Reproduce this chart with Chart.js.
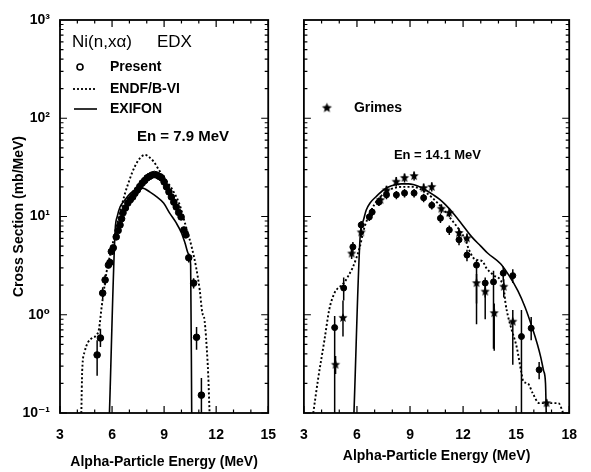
<!DOCTYPE html>
<html>
<head>
<meta charset="utf-8">
<title>Ni(n,xα) EDX</title>
<script src="https://cdn.jsdelivr.net/npm/chart.js@4.4.1/dist/chart.umd.min.js"></script>
<style>
  html, body { margin: 0; padding: 0; background: #fff; }
  #figure { position: relative; width: 591px; height: 472px; overflow: hidden; }
  #figure canvas { position: absolute; top: 0; }
  #leftChart { left: 0; }
  #rightChart { left: 286px; }
</style>
</head>
<body>
<div id="figure">
  <canvas id="leftChart" width="290" height="472"></canvas>
  <canvas id="rightChart" width="305" height="472"></canvas>
</div>
<script>
/* ========================================
   DADOS
   ======================================== */

// Eixos
const yTickValues = [0.1, 1, 10, 100, 1000];
const yTickLabels = ['10⁻¹', '10⁰', '10¹', '10²', '10³'];
const xTicksLeft = [3, 6, 9, 12, 15];
const xTicksRight = [3, 6, 9, 12, 15, 18];

// En = 7.9 MeV : [E (MeV), sigma, erro inferior, erro superior]
const leftPresent = [
  [5.14, 0.39, 0.24, 0.55], [5.33, 0.58, 0.47, 0.72], [5.46, 1.66, 1.45, 1.9],
  [5.60, 2.26, 2.0, 2.55], [5.79, 3.2], [5.88, 3.4], [5.96, 4.4], [6.07, 4.8],
  [6.24, 6.2], [6.35, 7.2], [6.46, 8.2], [6.55, 9.5], [6.63, 10.9], [6.77, 12.2],
  [6.91, 13.7], [7.05, 14.8], [7.19, 15.8], [7.32, 17.2], [7.46, 18.6], [7.60, 20.2],
  [7.74, 21.9], [7.88, 23.2], [8.02, 24.7], [8.16, 25.6], [8.30, 26.4], [8.44, 26.8],
  [8.58, 26.4], [8.72, 25.6], [8.86, 24.7], [9.00, 22.5], [9.14, 20.0], [9.28, 17.8],
  [9.42, 15.8], [9.56, 14.0], [9.70, 12.5], [9.84, 11.0], [9.98, 9.9], [10.14, 7.3],
  [10.25, 6.5], [10.42, 3.8, 3.4, 4.2], [10.70, 2.1, 1.85, 2.35],
  [10.87, 0.59, 0.44, 0.75], [11.15, 0.152, 0.10, 0.227]
];

const leftEndf = [
  [4.23, 0.1], [4.28, 0.27], [4.42, 0.42], [4.6, 0.52], [4.85, 0.58], [5.1, 0.62],
  [5.25, 0.72], [5.4, 1.2], [5.51, 1.66], [5.68, 2.7], [5.96, 4.6], [6.18, 6.8],
  [6.46, 11], [6.74, 17], [7.02, 24], [7.30, 32], [7.6, 39], [7.9, 42.5], [8.15, 40],
  [8.41, 36], [8.69, 30], [8.97, 25], [9.42, 19.5], [9.86, 13.7], [10.25, 8],
  [10.6, 4.8], [10.85, 3.0], [11.05, 1.8], [11.2, 1.05], [11.3, 0.95], [11.37, 0.75],
  [11.46, 0.45], [11.54, 0.25], [11.62, 0.1]
];

const leftExifon = [
  [5.85, 0.1], [6.18, 7.3], [6.3, 10], [6.46, 12.5], [6.74, 14.7], [7.07, 17.3],
  [7.46, 19], [7.74, 19.5], [8.19, 17.7], [8.58, 15.8], [8.97, 13.7], [9.31, 10.9],
  [9.70, 8.6], [10.0, 6.8], [10.2, 5.4], [10.42, 4.1], [10.53, 3.2], [10.59, 0.1]
];

// En = 14.1 MeV
const rightPresent = [
  [4.74, 0.74, 0.1, 0.97], [5.25, 1.87, 1.4, 2.4], [5.77, 4.9, 4.3, 5.5],
  [6.24, 8.2, 7.4, 9.0], [6.70, 9.9, 9.0, 10.9], [6.86, 11.1, 10.1, 12.2],
  [7.24, 14.0, 12.8, 15.3], [7.67, 16.6, 15.0, 18.2], [8.23, 16.6, 15.0, 18.2],
  [8.69, 17.3, 15.6, 19.0], [9.23, 17.3, 15.6, 19.0], [9.77, 15.5, 14.0, 17.0],
  [10.23, 13.0, 11.8, 14.3], [10.72, 9.6, 8.6, 10.7], [11.22, 7.3, 6.5, 8.1],
  [11.77, 5.8, 5.1, 6.5], [12.22, 4.05, 3.5, 4.6], [12.76, 3.2, 1.3, 3.6],
  [13.25, 2.1, 1.5, 2.4], [13.72, 2.16, 0.45, 2.8], [14.27, 2.65, 2.2, 3.1],
  [14.81, 2.5, 2.1, 2.9], [15.30, 0.6, 0.1, 1.12], [15.85, 0.73, 0.55, 0.95],
  [16.30, 0.275, 0.22, 0.33]
];

const rightGrimes = [
  [4.79, 0.31, 0.25, 0.38], [5.21, 0.93, 0.6, 1.4], [5.70, 4.2, 3.7, 4.8],
  [6.24, 6.9, 6.2, 7.7], [7.33, 14.7, 13.3, 16.2], [7.67, 18.5, 16.7, 20.5],
  [8.22, 22.6, 20.3, 25.2], [8.69, 24.7, 22.2, 27.4], [9.23, 25.8, 23.2, 28.7],
  [9.77, 19.5, 17.5, 21.7], [10.23, 20.0, 18.0, 22.3], [10.77, 12.0, 10.8, 13.3],
  [11.22, 10.9, 9.8, 12.1], [11.77, 6.8, 6.1, 7.6], [12.22, 6.0, 5.4, 6.7],
  [12.76, 2.1, 0.8, 2.6], [13.25, 1.72, 0.9, 2.0], [13.76, 1.04, 0.43, 1.3],
  [14.30, 1.93, 1.5, 2.3], [14.81, 0.85, 0.31, 1.12], [16.72, 0.126, 0.115, 0.138]
];

const rightEndf = [
  [3.53, 0.1], [3.80, 0.22], [4.16, 0.55], [4.43, 1.12], [4.70, 1.62], [4.9, 1.85],
  [5.07, 1.95], [5.30, 2.15], [5.52, 2.5], [5.75, 3.0], [5.97, 3.8], [6.15, 4.8],
  [6.4, 7.5], [6.8, 11.5], [7.2, 15], [7.8, 18.5], [8.5, 20], [9.2, 20], [9.9, 17.5],
  [10.6, 13.5], [11.3, 9.5], [11.86, 7.0], [12.13, 5.8], [12.31, 4.7], [12.58, 3.8],
  [12.85, 3.6], [13.1, 3.5], [13.31, 3.0], [13.76, 2.5], [14.12, 2.25], [14.30, 1.85],
  [14.40, 1.3], [14.55, 0.95], [14.75, 0.7], [15.03, 0.47], [15.30, 0.255],
  [15.40, 0.21], [15.66, 0.2], [15.93, 0.16], [16.3, 0.126], [17.39, 0.126], [17.66, 0.1]
];

const rightExifon = [
  [5.83, 0.1], [6.2, 7.0], [6.35, 9.0], [6.52, 11.6], [6.75, 13.8], [7.06, 15.8],
  [7.5, 18.6], [7.95, 20.5], [8.5, 21.5], [8.9, 21.5], [9.23, 21], [9.6, 19.8],
  [9.96, 18.3], [10.32, 16.6], [10.66, 15.0], [11.0, 13.2], [11.5, 10.5], [11.9, 8.5],
  [12.49, 6.2], [13.0, 5.0], [13.38, 4.25], [14.12, 3.3], [14.6, 2.5], [15.1, 1.75],
  [15.5, 1.2], [15.93, 0.72], [16.2, 0.5], [16.39, 0.37], [16.55, 0.27], [16.66, 0.2],
  [16.70, 0.1]
];

/* ========================================
   ESTILO
   ======================================== */

const FAMILY = '"Liberation Sans", Arial, "DejaVu Sans", sans-serif';

function toPoints(rows) {
  return rows.map(r => ({ x: r[0], y: r[1], lo: r[2], hi: r[3] }));
}

// Estrela cheia usada como marcador
function makeStar(r) {
  const c = document.createElement('canvas');
  const s = Math.ceil(r * 2 + 2);
  c.width = s; c.height = s;
  const g = c.getContext('2d');
  g.beginPath();
  for (let i = 0; i < 10; i++) {
    const rad = i % 2 === 0 ? r : r * 0.45;
    const a = -Math.PI / 2 + i * Math.PI / 5;
    g.lineTo(s / 2 + rad * Math.cos(a), s / 2 + rad * Math.sin(a));
  }
  g.closePath();
  g.fillStyle = '#000';
  g.fill();
  return c;
}
const starMarker = makeStar(4.8);
const starLegend = makeStar(5.2);

/* ========================================
   PLUGINS
   ======================================== */

// Moldura com marcas internas nos quatro lados
const frameTicks = {
  id: 'frameTicks',
  afterDraw(chart) {
    const { ctx, chartArea: a, scales: { x, y } } = chart;
    ctx.save();
    ctx.strokeStyle = '#000';
    ctx.lineWidth = 1.2;
    ctx.beginPath();
    for (let v = Math.ceil(x.min); v <= x.max; v++) {
      const px = x.getPixelForValue(v);
      const len = v % 3 === 0 ? 7 : 3.5;
      ctx.moveTo(px, a.bottom); ctx.lineTo(px, a.bottom - len);
      ctx.moveTo(px, a.top); ctx.lineTo(px, a.top + len);
    }
    for (let d = -1; d < 3; d++) {
      for (let m = 1; m < 10; m++) {
        const py = y.getPixelForValue(m * Math.pow(10, d));
        const len = m === 1 ? 7 : 3.5;
        ctx.moveTo(a.left, py); ctx.lineTo(a.left + len, py);
        ctx.moveTo(a.right, py); ctx.lineTo(a.right - len, py);
      }
    }
    ctx.stroke();
    ctx.lineWidth = 1.8;
    ctx.strokeRect(a.left, a.top, a.right - a.left, a.bottom - a.top);
    ctx.restore();
  }
};

// Barras de erro verticais
const errorBars = {
  id: 'errorBars',
  beforeDatasetsDraw(chart) {
    const { ctx, chartArea: a, scales: { x, y } } = chart;
    ctx.save();
    ctx.beginPath();
    ctx.rect(a.left, a.top, a.right - a.left, a.bottom - a.top);
    ctx.clip();
    ctx.strokeStyle = '#000';
    ctx.lineWidth = 1.5;
    chart.data.datasets.forEach(ds => {
      if (!ds.errorBars) return;
      ds.data.forEach(p => {
        if (p.lo === undefined) return;
        const px = x.getPixelForValue(p.x);
        ctx.beginPath();
        ctx.moveTo(px, y.getPixelForValue(p.lo));
        ctx.lineTo(px, y.getPixelForValue(p.hi));
        ctx.stroke();
      });
    });
    ctx.restore();
  }
};

// Textos e legenda dentro do painel
const panelNotes = {
  id: 'panelNotes',
  afterDraw(chart, args, opts) {
    const { ctx, chartArea: a } = chart;
    ctx.save();
    ctx.fillStyle = '#000';
    ctx.strokeStyle = '#000';
    ctx.textBaseline = 'middle';
    (opts.items || []).forEach(it => {
      const px = a.left + it.x, py = a.top + it.y;
      if (it.text) {
        ctx.font = it.font;
        ctx.fillText(it.text, px, py);
      } else if (it.mark === 'circle') {
        ctx.lineWidth = 1.6;
        ctx.beginPath();
        ctx.arc(px, py, 3, 0, Math.PI * 2);
        ctx.stroke();
      } else if (it.mark === 'star') {
        ctx.drawImage(starLegend, px - starLegend.width / 2, py - starLegend.height / 2);
      } else {
        ctx.lineWidth = it.mark === 'dotted' ? 1.8 : 1.6;
        ctx.setLineDash(it.mark === 'dotted' ? [2, 2] : []);
        ctx.beginPath();
        ctx.moveTo(px, py); ctx.lineTo(px + it.w, py);
        ctx.stroke();
        ctx.setLineDash([]);
      }
    });
    ctx.restore();
  }
};

/* ========================================
   GRÁFICOS
   ======================================== */

function lineSet(rows, dotted) {
  return {
    data: toPoints(rows),
    showLine: true,
    borderColor: '#000',
    borderWidth: dotted ? 1.9 : 1.6,
    borderDash: dotted ? [2, 2.2] : [],
    pointRadius: 0,
    cubicInterpolationMode: 'monotone'
  };
}

function pointSet(rows, marker, radius) {
  return {
    data: toPoints(rows),
    showLine: false,
    errorBars: true,
    pointStyle: marker || 'circle',
    pointRadius: radius,
    backgroundColor: '#000',
    borderColor: '#000',
    borderWidth: 1
  };
}

function buildPanel(canvasId, cfg) {
  const font = { family: FAMILY, size: 14, weight: 'bold' };
  new Chart(document.getElementById(canvasId), {
    type: 'scatter',
    data: { datasets: cfg.datasets },
    plugins: [errorBars, frameTicks, panelNotes],
    options: {
      responsive: false,
      animation: false,
      events: [],
      layout: { padding: { left: 0, right: cfg.padRight, top: 20, bottom: 0 } },
      plugins: {
        legend: { display: false },
        tooltip: { enabled: false },
        panelNotes: { items: cfg.notes }
      },
      scales: {
        x: {
          type: 'linear',
          min: 3,
          max: cfg.xTicks[cfg.xTicks.length - 1],
          grid: { display: false, drawTicks: false },
          border: { display: false },
          afterBuildTicks: s => { s.ticks = cfg.xTicks.map(v => ({ value: v })); },
          afterFit: s => { s.height = 59; },
          ticks: { color: '#000', font, padding: 14, autoSkip: false, maxRotation: 0 },
          title: {
            display: true,
            text: 'Alpha-Particle Energy (MeV)',
            color: '#000',
            font,
            padding: { top: 0, bottom: cfg.titleBottom }
          }
        },
        y: {
          type: 'logarithmic',
          min: 0.1,
          max: 1000,
          grid: { display: false, drawTicks: false },
          border: { display: false },
          afterBuildTicks: s => { s.ticks = yTickValues.map(v => ({ value: v })); },
          afterFit: s => { s.width = cfg.yWidth; },
          ticks: {
            display: cfg.yLabels,
            color: '#000',
            font,
            padding: 10,
            autoSkip: false,
            callback: (v, i) => yTickLabels[i]
          },
          title: {
            display: cfg.yLabels,
            text: 'Cross Section (mb/MeV)',
            color: '#000',
            font,
            padding: { top: 11, bottom: 0 }
          }
        }
      }
    }
  });
}

const labelFont = 'bold 14px ' + FAMILY;

buildPanel('leftChart', {
  xTicks: xTicksLeft,
  yLabels: true,
  yWidth: 60,
  padRight: 15,
  titleBottom: 1,
  datasets: [lineSet(leftEndf, true), lineSet(leftExifon, false), pointSet(leftPresent, null, 3.3)],
  notes: [
    { text: 'Ni(n,xα)', x: 12, y: 22, font: '17px ' + FAMILY },
    { text: 'EDX', x: 97, y: 22, font: '17px ' + FAMILY },
    { mark: 'circle', x: 20, y: 47 },
    { text: 'Present', x: 50, y: 47, font: labelFont },
    { mark: 'dotted', x: 13, y: 69, w: 24 },
    { text: 'ENDF/B-VI', x: 50, y: 69, font: labelFont },
    { mark: 'solid', x: 14, y: 89, w: 23 },
    { text: 'EXIFON', x: 50, y: 89, font: labelFont },
    { text: 'En = 7.9 MeV', x: 77, y: 117, font: 'bold 15px ' + FAMILY }
  ]
});

buildPanel('rightChart', {
  xTicks: xTicksRight,
  yLabels: false,
  yWidth: 12,
  padRight: 13,
  titleBottom: 7,
  datasets: [lineSet(rightEndf, true), lineSet(rightExifon, false),
             pointSet(rightPresent, null, 3), pointSet(rightGrimes, starMarker, 4.8)],
  notes: [
    { mark: 'star', x: 23, y: 88 },
    { text: 'Grimes', x: 50, y: 88, font: labelFont },
    { text: 'En = 14.1 MeV', x: 90, y: 135, font: 'bold 13px ' + FAMILY }
  ]
});
</script>
</body>
</html>
